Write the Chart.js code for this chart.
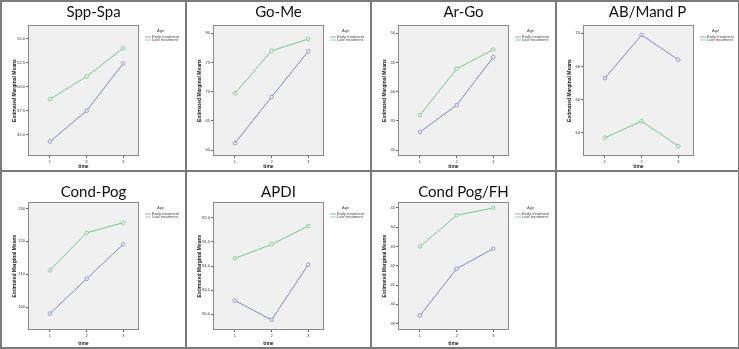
<!DOCTYPE html>
<html>
<head>
<meta charset="utf-8">
<script src="https://cdn.jsdelivr.net/npm/chart.js@4.4.0/dist/chart.umd.min.js"></script>
<style>
  body { margin: 0; background: #fff; }
  #grid { position: relative; width: 739px; height: 349px; }
  .cell { position: absolute; }
  .line { position: absolute; background: #7a7a7a; }
</style>
</head>
<body>
<div id="grid"></div>
<script>
// chart data
const titles = ['Spp-Spa', 'Go-Me', 'Ar-Go', 'AB/Mand P', 'Cond-Pog', 'APDI', 'Cond Pog/FH'];
const timePoints = [1, 2, 3];
const seriesNames = ['Early treatment', 'Late treatment'];

const sppSpaEarly = [44.3, 47.5, 52.4];
const sppSpaLate = [48.7, 51.05, 54.0];
const goMeEarly = [61.2, 69.1, 76.9];
const goMeLate = [69.7, 77.0, 79.0];
const arGoEarly = [33.1, 37.7, 45.9];
const arGoLate = [36.0, 43.9, 47.2];
const abMandEarly = [67.3, 69.9, 68.4];
const abMandLate = [63.7, 64.7, 63.2];
const condPogEarly = [98.0, 108.6, 119.1];
const condPogLate = [111.2, 122.6, 125.7];
const apdiEarly = [80.28, 79.88, 81.03];
const apdiLate = [81.16, 81.45, 81.83];
const condPogFhEarly = [39.42, 41.85, 42.89];
const condPogFhLate = [43.0, 44.62, 45.0];

// tick labels
const sppSpaTicks = [45.0, 47.5, 50.0, 52.5, 55.0];
const goMeTicks = [60, 65, 70, 75, 80];
const arGoTicks = [30, 35, 40, 45, 50];
const abMandTicks = [64, 66, 68, 70];
const condPogTicks = [100, 110, 120, 130];
const apdiTicks = [80.0, 80.5, 81.0, 81.5, 82.0];
const condPogFhTicks = [39, 40, 41, 42, 43, 44, 45];

const yRanges = [[42.8, 56.4], [59.0, 81.4], [29.0, 51.4], [62.6, 70.5], [93.0, 132.0], [79.67, 82.33], [38.67, 45.31]];
const tickDecimals = [1, 0, 0, 0, 0, 1, 0];

const earlySeries = [sppSpaEarly, goMeEarly, arGoEarly, abMandEarly, condPogEarly, apdiEarly, condPogFhEarly];
const lateSeries = [sppSpaLate, goMeLate, arGoLate, abMandLate, condPogLate, apdiLate, condPogFhLate];
const tickLists = [sppSpaTicks, goMeTicks, arGoTicks, abMandTicks, condPogTicks, apdiTicks, condPogFhTicks];

const colEdges = [0, 185, 370, 555, 738];
const rowEdges = [0, 170, 347];
const earlyColor = '#8585d2';
const lateColor = '#79c68b';

// grey plot box with border
const plotBox = {
  id: 'plotBox',
  beforeDatasetsDraw(chart) {
    const a = chart.chartArea, ctx = chart.ctx;
    ctx.save();
    ctx.fillStyle = '#f0f0f0';
    ctx.fillRect(a.left, a.top, a.right - a.left, a.bottom - a.top);
    ctx.strokeStyle = '#8a8a8a';
    ctx.lineWidth = 1;
    ctx.strokeRect(a.left + 0.5, a.top + 0.5, a.right - a.left - 1, a.bottom - a.top - 1);
    ctx.restore();
  }
};

// SPSS style legend to the right of the plot
const ageLegend = {
  id: 'ageLegend',
  afterDraw(chart) {
    const a = chart.chartArea, ctx = chart.ctx;
    const x = a.right + 6;
    ctx.save();
    ctx.font = '4px "Liberation Sans"';
    ctx.fillStyle = '#444';
    ctx.textBaseline = 'middle';
    ctx.fillText('Age', x + 12, a.top + 6);
    chart.data.datasets.forEach((ds, i) => {
      const y = a.top + 12 + i * 3;
      ctx.strokeStyle = ds.borderColor;
      ctx.lineWidth = 0.8;
      ctx.beginPath();
      ctx.moveTo(x, y);
      ctx.lineTo(x + 6, y);
      ctx.stroke();
      ctx.fillText(ds.label, x + 7, y);
    });
    ctx.restore();
  }
};

const grid = document.getElementById('grid');

function addLine(x, y, w, h) {
  const d = document.createElement('div');
  d.className = 'line';
  d.style.left = x + 'px'; d.style.top = y + 'px';
  d.style.width = w + 'px'; d.style.height = h + 'px';
  grid.appendChild(d);
}

titles.forEach((title, i) => {
  const col = i % 4, row = Math.floor(i / 4);
  const left = colEdges[col] + 2, top = rowEdges[row] + 2;
  const w = colEdges[col + 1] - colEdges[col] - 2;
  const h = rowEdges[row + 1] - rowEdges[row] - 2;
  const div = document.createElement('div');
  div.className = 'cell';
  div.style.left = left + 'px'; div.style.top = top + 'px';
  const canvas = document.createElement('canvas');
  canvas.width = w; canvas.height = h;
  div.appendChild(canvas);
  grid.appendChild(div);

  const ticks = tickLists[i];
  const dec = tickDecimals[i];

  new Chart(canvas, {
    type: 'line',
    data: {
      datasets: [
        { label: seriesNames[0], data: timePoints.map((t, k) => ({ x: t, y: earlySeries[i][k] })), borderColor: earlyColor },
        { label: seriesNames[1], data: timePoints.map((t, k) => ({ x: t, y: lateSeries[i][k] })), borderColor: lateColor }
      ].map(ds => Object.assign(ds, {
        borderWidth: 1, pointRadius: 1.8, pointBorderWidth: 0.8,
        pointBackgroundColor: '#f0f0f0', pointBorderColor: ds.borderColor, tension: 0
      }))
    },
    options: {
      responsive: false,
      animation: false,
      devicePixelRatio: 1,
      layout: { padding: 0 },
      plugins: {
        legend: { display: false },
        tooltip: { enabled: false },
        title: {
          display: true, text: title, color: '#111',
          font: { family: 'Lato', size: 15, weight: 'normal' },
          padding: row === 0 ? { top: 1, bottom: 4 } : { top: 11, bottom: 1 }
        }
      },
      scales: {
        x: {
          type: 'linear', min: 0.4, max: 3.43,
          afterBuildTicks: s => { s.ticks = timePoints.map(v => ({ value: v })); },
          afterFit: s => { s.height = row === 0 ? 14 : 17; },
          grid: { drawOnChartArea: false, tickLength: 2, color: '#666' },
          border: { display: false },
          ticks: { font: { family: 'Liberation Sans', size: 4 }, color: '#333', padding: 1 },
          title: { display: true, text: 'time', font: { family: 'Liberation Sans', size: 5, weight: 'bold' }, color: '#222', padding: { top: 2, bottom: 0 } }
        },
        y: {
          min: yRanges[i][0], max: yRanges[i][1],
          afterBuildTicks: s => { s.ticks = ticks.map(v => ({ value: v })); },
          afterFit: s => { s.width = 26; },
          grid: { drawOnChartArea: false, tickLength: 2, color: '#666' },
          border: { display: false },
          ticks: { font: { family: 'Liberation Sans', size: 4 }, color: '#333', padding: 1, callback: v => v.toFixed(dec) },
          title: { display: true, text: 'Estimated Marginal Means', font: { family: 'Liberation Sans', size: 5, weight: 'bold' }, color: '#222', padding: { top: 10, bottom: 0 } }
        },
        // empty right-hand box that keeps room for the legend
        legendSpace: {
          type: 'linear', position: 'right', min: 0, max: 1,
          afterFit: s => { s.width = w - 137; },
          grid: { display: false }, border: { display: false }, ticks: { display: false }
        }
      }
    },
    plugins: [plotBox, ageLegend]
  });
});

// table borders
colEdges.forEach(x => addLine(x, 0, 2, 349));
rowEdges.forEach(y => addLine(0, y, 740, 2));
</script>
</body>
</html>
